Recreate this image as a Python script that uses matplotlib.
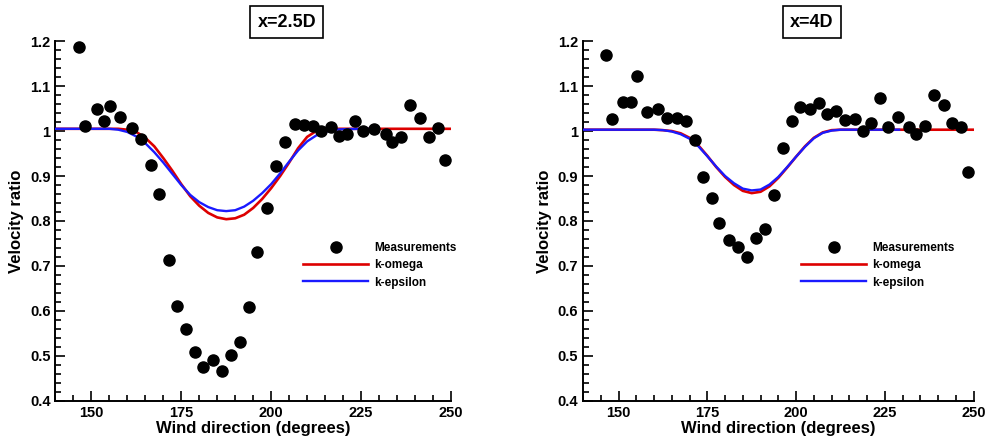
import numpy as np
import matplotlib
matplotlib.use("Agg")
import matplotlib.pyplot as plt
from matplotlib.ticker import MultipleLocator, FormatStrFormatter

plt.rcParams['font.family'] = ['Liberation Sans', 'DejaVu Sans']
plt.rcParams['font.weight'] = 'bold'

# --- x = 2.5D measurements ---
meas25_x = [146.5, 148.2, 151.6, 153.6, 155.3, 158.1, 161.4, 163.7, 166.5, 168.9,
            171.6, 173.9, 176.3, 178.7, 181.1, 183.8, 186.2, 188.7, 191.3, 193.7,
            196.2, 198.8, 201.3, 203.9, 206.6, 209.0, 211.5, 213.8, 216.6, 218.9,
            221.2, 223.4, 225.6, 228.7, 231.9, 233.6, 236.2, 238.7, 241.5, 244.0,
            246.5, 248.4]
meas25_y = [1.187, 1.011, 1.048, 1.022, 1.056, 1.032, 1.006, 0.982, 0.925, 0.859,
            0.713, 0.610, 0.560, 0.508, 0.476, 0.490, 0.466, 0.501, 0.530, 0.609,
            0.732, 0.830, 0.922, 0.976, 1.015, 1.013, 1.012, 1.000, 1.010, 0.990,
            0.993, 1.023, 1.000, 1.004, 0.994, 0.975, 0.987, 1.058, 1.028, 0.987,
            1.006, 0.935]

curve_x = [140, 145, 150, 155, 157.5, 160, 162.5, 165, 167.5, 170, 172.5, 175,
           177.5, 180, 182.5, 185, 187.5, 190, 192.5, 195, 197.5, 200, 202.5,
           205, 207.5, 210, 212.5, 215, 217.5, 220, 225, 229, 235, 240, 245, 250]

omega25_y = [1.005, 1.005, 1.005, 1.005, 1.005, 1.003, 0.998, 0.985, 0.966, 0.940,
             0.912, 0.882, 0.855, 0.834, 0.818, 0.808, 0.804, 0.806, 0.814, 0.829,
             0.849, 0.873, 0.900, 0.930, 0.962, 0.987, 1.000, 1.005, 1.005, 1.005,
             1.005, 1.005, 1.005, 1.005, 1.005, 1.005]
eps25_y = [1.005, 1.005, 1.005, 1.005, 1.003, 0.998, 0.988, 0.973, 0.953, 0.930,
           0.905, 0.880, 0.858, 0.842, 0.831, 0.824, 0.822, 0.824, 0.832, 0.845,
           0.862, 0.882, 0.906, 0.932, 0.957, 0.977, 0.990, 0.998, 1.003, 1.004,
           1.005, 1.005]

# --- x = 4D measurements ---
meas4_x = [146.4, 148.1, 151.3, 153.5, 155.2, 158.0, 161.2, 163.7, 166.5, 168.9,
           171.4, 173.7, 176.2, 178.4, 181.2, 183.7, 186.2, 188.7, 191.3, 193.7,
           196.3, 198.9, 201.2, 203.8, 206.4, 208.8, 211.3, 213.8, 216.6, 218.9,
           221.2, 223.5, 225.8, 228.8, 231.8, 233.7, 236.3, 238.8, 241.7, 244.0,
           246.5, 248.3]
meas4_y = [1.170, 1.027, 1.064, 1.064, 1.123, 1.042, 1.050, 1.030, 1.030, 1.023,
           0.980, 0.898, 0.852, 0.795, 0.758, 0.743, 0.721, 0.763, 0.782, 0.858,
           0.963, 1.022, 1.054, 1.050, 1.062, 1.039, 1.044, 1.024, 1.027, 1.000,
           1.018, 1.073, 1.010, 1.032, 1.010, 0.993, 1.011, 1.080, 1.058, 1.017,
           1.010, 0.910]

omega4_y = [1.003, 1.003, 1.003, 1.003, 1.003, 1.003, 1.002, 1.000, 0.995, 0.985,
            0.968, 0.945, 0.920, 0.898, 0.880, 0.867, 0.862, 0.865, 0.877, 0.896,
            0.919, 0.943, 0.966, 0.985, 0.997, 1.002, 1.003, 1.003, 1.003, 1.003,
            1.003, 1.003, 1.003, 1.003, 1.003, 1.003]
eps4_y = [1.003, 1.003, 1.003, 1.003, 1.003, 1.003, 1.002, 0.999, 0.993, 0.983,
          0.966, 0.944, 0.921, 0.900, 0.884, 0.872, 0.868, 0.870, 0.881, 0.898,
          0.920, 0.943, 0.965, 0.984, 0.996, 1.001, 1.003, 1.003, 1.003, 1.003,
          1.003, 1.003]

panels = [
    ("x=2.5D", meas25_x, meas25_y, omega25_y, eps25_y),
    ("x=4D", meas4_x, meas4_y, omega4_y, eps4_y),
]

fig = plt.figure(figsize=(9.89, 4.42), dpi=100)
lefts = [0.056, 0.5895]
widths = [0.4, 0.395]
legend_x = [0.615, 0.546]

for left, w, lx, (title, mx, my, om, ep) in zip(lefts, widths, legend_x, panels):
    ax = fig.add_axes([left, 0.093, w, 0.814])
    ax.plot(curve_x, om, color='#dd0000', lw=1.9, label='k-omega', zorder=2)
    ax.plot(curve_x[:len(ep)], ep, color='#1a1aff', lw=1.7, label='k-epsilon', zorder=3)
    ax.plot(mx, my, 'o', color='black', ms=8, label='Measurements', zorder=4)

    ax.set_xlim(140, 250)
    ax.set_ylim(0.4, 1.2)
    ax.xaxis.set_major_locator(MultipleLocator(25))
    ax.xaxis.set_minor_locator(MultipleLocator(5))
    ax.yaxis.set_major_locator(MultipleLocator(0.1))
    ax.yaxis.set_minor_locator(MultipleLocator(0.02))
    ax.yaxis.set_major_formatter(FormatStrFormatter('%g'))
    ax.set_xticks([150, 175, 200, 225, 250])
    ax.tick_params(which='both', direction='in', labelsize=10.5, width=1.2)
    ax.tick_params(which='major', length=7)
    ax.tick_params(which='minor', length=4)
    for lab in ax.get_xticklabels() + ax.get_yticklabels():
        lab.set_fontweight('bold')
    ax.spines['top'].set_visible(False)
    ax.spines['right'].set_visible(False)
    for s in ('left', 'bottom'):
        ax.spines[s].set_linewidth(1.4)

    ax.set_xlabel('Wind direction (degrees)', fontsize=12, fontweight='bold', labelpad=1)
    ax.set_ylabel('Velocity ratio', fontsize=12, fontweight='bold', labelpad=4)

    handles, labels = ax.get_legend_handles_labels()
    order = [2, 0, 1]
    ax.legend([handles[i] for i in order], [labels[i] for i in order],
              loc='upper left', bbox_to_anchor=(lx, 0.455), frameon=False,
              prop={'weight': 'bold', 'size': 8.5}, handlelength=5.5,
              labelspacing=0.45, handletextpad=0.5, borderaxespad=0)

    ax.text(0.585, 1.053, title, transform=ax.transAxes, ha='center', va='center',
            fontsize=13, fontweight='bold',
            bbox=dict(boxstyle='square,pad=0.4', fc='white', ec='black', lw=1.2))

fig.savefig('out.png', dpi=100)
